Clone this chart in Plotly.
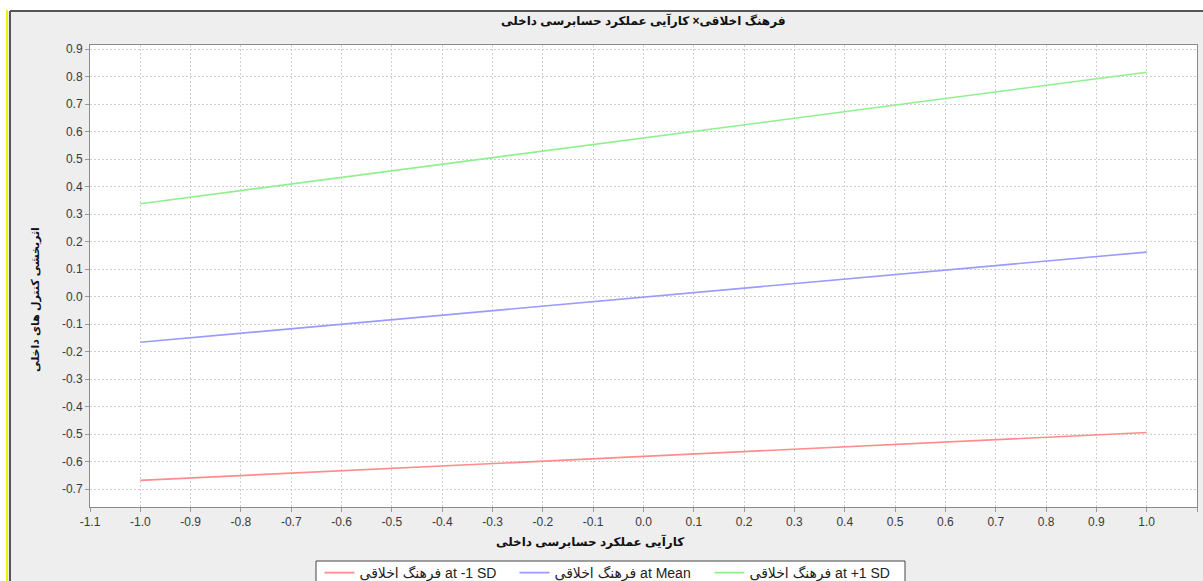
import plotly.graph_objects as go

# Data
x_vals = [-1.0, 1.0]
series_names = ["فرهنگ اخلاقی at -1 SD", "فرهنگ اخلاقی at Mean", "فرهنگ اخلاقی at +1 SD"]
low_sd = [-0.668, -0.494]
mean_vals = [-0.166, 0.162]
high_sd = [0.338, 0.816]
colors = ["#ff8c8c", "#9a9aff", "#90f090"]
x_ticks = [round(-1.1 + 0.1 * i, 1) for i in range(23)]
y_ticks = [round(-0.7 + 0.1 * i, 1) for i in range(17)]

title_text = "فرهنگ اخلاقی× کارآیی عملکرد حسابرسی داخلی"
x_title = "کارآیی عملکرد حسابرسی داخلی"
y_title = "اثربخشی کنترل های داخلی"

W, H = 1203, 581
L, R, T, B = 90, 6, 45, 74
pw, ph = W - L - R, H - T - B

def px(x):
    return (x - L) / pw

def py(y):
    return (H - B - y) / ph

fig = go.Figure()
for name, vals, c in zip(series_names, [low_sd, mean_vals, high_sd], colors):
    fig.add_trace(go.Scatter(x=x_vals, y=vals, mode="lines", name=name,
                             line=dict(color=c, width=1.6)))

font_fam = "Liberation Sans, DejaVu Sans, Arial, sans-serif"
axis_common = dict(showgrid=True, gridcolor="#cfcfcf", griddash="2px,2px", gridwidth=1,
                   zeroline=False, showline=True, linecolor="#8a8a8a", linewidth=1,
                   mirror=True, ticks="outside", ticklen=4, tickcolor="#9a9a9a",
                   tickfont=dict(family=font_fam, size=12, color="#3a3a3a"))

fig.update_layout(
    width=W, height=H,
    margin=dict(l=L, r=R, t=T, b=B, autoexpand=False),
    paper_bgcolor="#eeeeee", plot_bgcolor="#ffffff",
    showlegend=True,
    legend=dict(orientation="h", x=612 / W, xanchor="center", xref="container",
                y=1 - 557 / H, yanchor="top", yref="container",
                bgcolor="rgba(0,0,0,0)", borderwidth=0,
                font=dict(family=font_fam, size=14, color="#222222"),
                itemwidth=30, tracegroupgap=0, entrywidth=150, entrywidthmode="pixels"),
    xaxis=dict(range=[-1.1, 1.1], tickvals=x_ticks, ticktext=[f"{v:.1f}" for v in x_ticks], **axis_common),
    yaxis=dict(range=[-0.765, 0.915], tickvals=y_ticks, ticktext=[f"{v:.1f}" for v in y_ticks], **axis_common),
    annotations=[
        dict(text=f"<b>{title_text}</b>", x=px(643), y=py(21), xref="paper", yref="paper",
             showarrow=False, xanchor="center", yanchor="middle",
             font=dict(family=font_fam, size=12, color="#111111")),
        dict(text=f"<b>{x_title}</b>", x=px(590), y=py(541), xref="paper", yref="paper",
             showarrow=False, xanchor="center", yanchor="middle",
             font=dict(family=font_fam, size=12, color="#111111")),
        dict(text=f"<b>{y_title}</b>", x=px(35), y=py(300), xref="paper", yref="paper",
             showarrow=False, xanchor="center", yanchor="middle", textangle=-90,
             font=dict(family=font_fam, size=11, color="#111111")),
    ],
    shapes=[
        dict(type="rect", xref="paper", yref="paper", x0=px(0), x1=px(W), y0=py(11), y1=py(0),
             fillcolor="#ffffff", line=dict(width=0), layer="below"),
        dict(type="rect", xref="paper", yref="paper", x0=px(0), x1=px(6), y0=py(H), y1=py(0),
             fillcolor="#ffffff", line=dict(width=0), layer="below"),
        dict(type="line", xref="paper", yref="paper", x0=px(7), x1=px(7), y0=py(H), y1=py(10),
             line=dict(color="#f5f000", width=2)),
        dict(type="line", xref="paper", yref="paper", x0=px(10), x1=px(10), y0=py(H), y1=py(11),
             line=dict(color="#555555", width=2)),
        dict(type="line", xref="paper", yref="paper", x0=px(10), x1=px(W), y0=py(11), y1=py(11),
             line=dict(color="#555555", width=2)),
        dict(type="rect", xref="paper", yref="paper", x0=px(316), x1=px(905), y0=py(595), y1=py(561),
             fillcolor="#ffffff", line=dict(color="#444444", width=1), layer="below"),
    ],
)

fig.write_html("out.html", config={"displayModeBar": False},
               post_script="document.body.style.margin='0';document.body.style.overflow='hidden';")
